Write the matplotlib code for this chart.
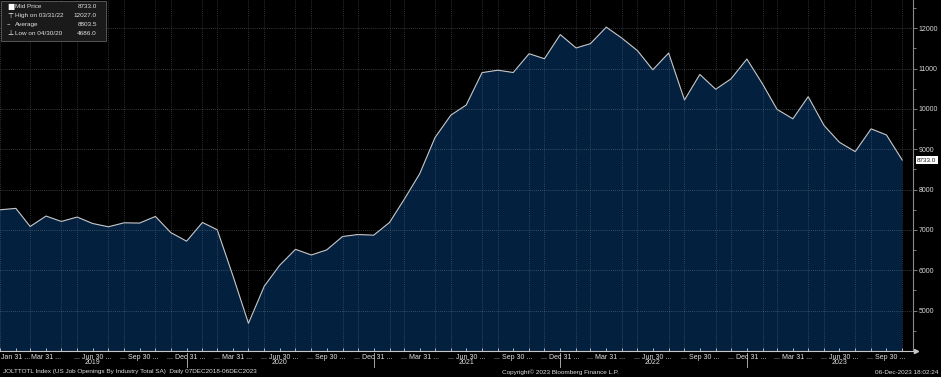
import matplotlib
matplotlib.use("Agg")
import matplotlib.transforms as mtransforms
from matplotlib import pyplot as plt
from matplotlib.patches import Rectangle
import pandas as pd

# monthly JOLTS job openings (thousands), month-end dates
dates = pd.date_range("2018-12-31", "2023-10-31", freq="ME")
openings = [
    7500,
    7535, 7086, 7345, 7211, 7320, 7161, 7079, 7178, 7171, 7335, 6936, 6722,
    7186, 7004, 5850, 4686, 5607, 6123, 6520, 6380, 6505, 6837, 6887, 6871,
    7186, 7745, 8393, 9291, 9847, 10097, 10900, 10960, 10903, 11369, 11244, 11843,
    11511, 11618, 12027, 11760, 11444, 10970, 11386, 10222, 10855, 10488, 10745, 11237,
    10613, 9990, 9755, 10304, 9590, 9174, 8942, 9506, 9356, 8733,
]

legend_rows = [
    ("\u25A0", "Mid Price", "8733.0"),
    ("\u22A4", "High on 03/31/22", "12027.0"),
    ("\u2013", "Average", "8803.5"),
    ("\u22A5", "Low on 04/30/20", "4686.0"),
]

label_dates = ["2019-01-31"] + [str(d.date()) for d in pd.date_range("2019-03-31", "2023-09-30", freq="QE")]
year_labels = ["2019", "2020", "2021", "2022", "2023"]

plt.rcParams["font.family"] = ["Liberation Sans", "DejaVu Sans"]

W, H = 941, 377
fig = plt.figure(figsize=(W / 100, H / 100), dpi=100, facecolor="black")
ax = fig.add_axes([0, 26 / H, 913 / W, 1 - 26 / H])
ax.set_facecolor("black")

fill_col = "#04203f"
ax.fill_between(dates, openings, 0, color=fill_col, lw=0, zorder=1)
ax.plot(dates, openings, color="#c8c8c8", lw=0.8, zorder=2)

ax.set_xlim(pd.Timestamp("2018-12-31"), pd.Timestamp("2023-11-21"))
ax.set_ylim(4000, 12700)

# grid
ax.set_yticks(range(5000, 12001, 1000))
ax.set_yticks(range(4500, 12501, 1000), minor=True)
ax.set_xticks(pd.to_datetime(label_dates))
ax.set_xticks(dates, minor=True)
ax.set_xticklabels(["Jan 31 ...", "Mar 31 ..."] + [
    "... " + pd.Timestamp(d).strftime("%b %d") + " ..." for d in label_dates[2:]
])
ax.set_axisbelow(False)
ax.grid(True, which="major", axis="y", color="#8a95a5", alpha=0.5, lw=0.6, ls=(0, (1, 1.5)))
ax.grid(True, which="minor", axis="x", color="#8a95a5", alpha=0.42, lw=0.6, ls=(0, (1, 1.5)))

ax.yaxis.tick_right()
ax.tick_params(axis="y", which="both", direction="out", colors="#909090", labelcolor="#d8d8d8",
               labelsize=5, length=3, width=0.6, pad=1)
ax.tick_params(axis="y", which="minor", length=2)
ax.tick_params(axis="x", which="both", direction="in", colors="#d0d0d0", labelcolor="#e0e0e0",
               labelsize=5, length=2, width=0.6, pad=2)

for s in ["top", "left"]:
    ax.spines[s].set_visible(False)
ax.spines["right"].set_color("#8a8a8a")
ax.spines["right"].set_linewidth(0.8)
ax.spines["bottom"].set_color("#c8c8c8")
ax.spines["bottom"].set_linewidth(0.8)
ax.plot([1.003], [0], marker=">", ms=3, color="#c8c8c8", transform=ax.transAxes, clip_on=False)

# year labels and separators
trans = mtransforms.blended_transform_factory(ax.transData, ax.transAxes)
for y in year_labels:
    ax.text(pd.Timestamp(f"{y}-06-30"), -0.024, y, transform=trans, ha="center", va="top",
            fontsize=5, color="#e0e0e0")
for y in year_labels[:-1]:
    ax.plot([pd.Timestamp(f"{y}-12-31")] * 2, [-0.006, -0.047], transform=trans, color="#c0c0c0",
            lw=0.6, clip_on=False)

# last value box
ax.annotate(f"{openings[-1]:.1f}", xy=(1, openings[-1]),
            xycoords=mtransforms.blended_transform_factory(ax.transAxes, ax.transData),
            xytext=(3, 0), textcoords="offset points", ha="left", va="center", fontsize=4.6,
            color="#202020", bbox=dict(boxstyle="square,pad=0.2", fc="white", ec="none"),
            annotation_clip=False)

# legend box
fig.patches.append(Rectangle((1 / W, 1 - 41 / H), 105 / W, 40 / H, transform=fig.transFigure,
                             facecolor="#1a1a1a", edgecolor="#606060", lw=0.6))
for i, (icon, name, val) in enumerate(legend_rows):
    yy = 1 - (7 + i * 8.7) / H
    fig.text(7 / W, yy, icon, fontsize=5.5 if i == 0 else 5, color="white", ha="left", va="center",
             family="DejaVu Sans")
    fig.text(15 / W, yy, name, fontsize=4.6, color="#e0e0e0", ha="left", va="center")
    fig.text(97 / W, yy, val, fontsize=4.6, color="#e0e0e0", ha="right", va="center")

# footer
fig.text(3 / W, 5 / H, "JOLTTOTL Index (US Job Openings By Industry Total SA)  Daily 07DEC2018-06DEC2023",
         fontsize=4.6, color="#e0e0e0", ha="left", va="center")
fig.text(502 / W, 5 / H, "Copyright\u00a9 2023 Bloomberg Finance L.P.",
         fontsize=4.6, color="#e0e0e0", ha="left", va="center")
fig.text(938 / W, 5 / H, "06-Dec-2023 18:02:24", fontsize=4.6, color="#e0e0e0", ha="right", va="center")

fig.savefig("out.png", dpi=100, facecolor="black")
